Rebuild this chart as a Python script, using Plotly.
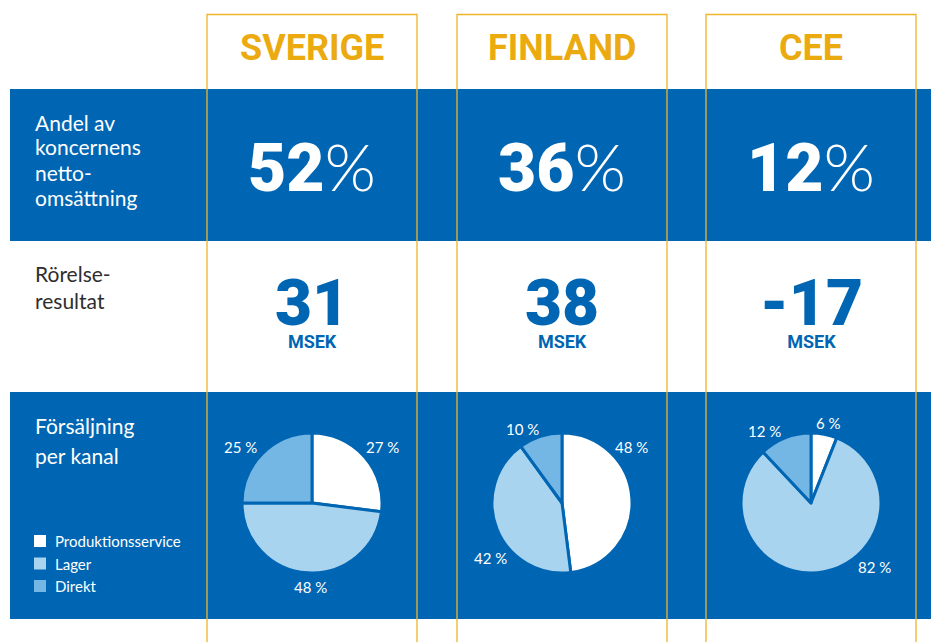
import plotly.graph_objects as go

# ---------------- data ----------------
regions = ["SVERIGE", "FINLAND", "CEE"]
share_of_sales_pct = [52, 36, 12]
operating_result_msek = [31, 38, -17]
channel_labels = ["Produktionsservice", "Lager", "Direkt"]
sales_sverige = [27, 48, 25]
sales_finland = [48, 42, 10]
sales_cee = [6, 82, 12]
row_label_share = ["Andel av", "koncernens", "netto-", "omsättning"]
row_label_result = ["Rörelse-", "resultat"]
row_label_sales = ["Försäljning", "per kanal"]
unit_label = "MSEK"

# ---------------- styling ----------------
W, H = 931, 642
BLUE = "#0066B3"
LIGHT = "#A9D4F0"
MID = "#74B7E5"
WHITE = "#FFFFFF"
YELLOW = "#EBAB10"
LINE_YELLOW = "#F0B429"
DARK = "#2E2E2E"
channel_colors = [WHITE, LIGHT, MID]

col_left = [207, 457, 706]
col_w = 210
col_cx = [l + col_w / 2 for l in col_left]
pie_cy = 503
pie_r = 70


def px(x):
    return x / W


def py(y):
    return 1 - y / H


fig = go.Figure()

for i, vals in enumerate([sales_sverige, sales_finland, sales_cee]):
    cx = col_cx[i]
    fig.add_trace(go.Pie(
        labels=channel_labels,
        values=vals,
        sort=False,
        direction="clockwise",
        rotation=0,
        textinfo="none",
        marker=dict(colors=channel_colors, line=dict(color=BLUE, width=3)),
        domain=dict(x=[px(cx - pie_r), px(cx + pie_r)],
                    y=[py(pie_cy + pie_r), py(pie_cy - pie_r)]),
        showlegend=False,
        hovertemplate="%{label}: %{value} %<extra>" + regions[i] + "</extra>",
    ))

shapes = []
# blue bands
for (y0, y1) in [(89, 241), (392, 619)]:
    shapes.append(dict(type="rect", xref="paper", yref="paper",
                       x0=px(10), x1=1, y0=py(y1), y1=py(y0),
                       fillcolor=BLUE, line=dict(width=0), layer="below"))
# column frames
for l in col_left:
    shapes.append(dict(type="rect", xref="paper", yref="paper",
                       x0=px(l), x1=px(l + col_w), y0=py(660), y1=py(14.5),
                       fillcolor="rgba(0,0,0,0)",
                       line=dict(color=LINE_YELLOW, width=1.3), layer="below"))
# legend squares
leg_y = [541, 563.5, 586]
for c, y in zip(channel_colors, leg_y):
    shapes.append(dict(type="rect", xref="paper", yref="paper",
                       x0=px(34), x1=px(46), y0=py(y + 6), y1=py(y - 6),
                       fillcolor=c, line=dict(width=0), layer="below"))

ann = []


def text(x, y, s, size, color, family="Lato", weight=400, xanchor="center"):
    ann.append(dict(x=px(x), y=py(y), xref="paper", yref="paper", text=s,
                    showarrow=False, xanchor=xanchor, yanchor="middle",
                    font=dict(family=family, size=size, color=color, weight=weight)))


# left row labels
for k, s in enumerate(row_label_share):
    text(33, 122 + 25 * k, s, 21, WHITE, xanchor="left")
for k, s in enumerate(row_label_result):
    text(33, 273 + 27 * k, s, 21, DARK, xanchor="left")
for k, s in enumerate(row_label_sales):
    text(33, 425 + 30 * k, s, 21, WHITE, xanchor="left")
# legend labels
for lab, y in zip(channel_labels, leg_y):
    text(53, y, lab, 15, WHITE, xanchor="left")

pct_span = "<span style='font-family:Lato;font-weight:300'>%</span>"
for i, cx in enumerate(col_cx):
    text(cx, 47.5, regions[i], 36, YELLOW, family="Roboto", weight=700)
    text(cx, 167, f"{share_of_sales_pct[i]}" + pct_span, 66, WHITE,
         family="Roboto", weight=900)
    result_txt = (f"<span style='font-size:64px;font-weight:900'>"
                  f"{operating_result_msek[i]}</span><br>{unit_label}")
    text(cx, 309, result_txt, 18, BLUE, family="Roboto", weight=700)

# pie percentage labels (offset from pie centre)
label_offsets = [
    [(70, -56), (-2, 84), (-72, -56)],
    [(69, -56), (-72, 55), (-40, -74)],
    [(17, -80), (63, 64), (-47, -72)],
]
for i, vals in enumerate([sales_sverige, sales_finland, sales_cee]):
    for v, (dx, dy) in zip(vals, label_offsets[i]):
        text(col_cx[i] + dx, pie_cy + dy, f"{v} %", 15, WHITE)

fig.update_layout(
    width=W, height=H,
    margin=dict(l=0, r=0, t=0, b=0),
    paper_bgcolor=WHITE, plot_bgcolor=WHITE,
    shapes=shapes, annotations=ann,
    showlegend=False,
)

fig.write_html("out.html",
               config={"displayModeBar": False},
               post_script="document.body.style.margin='0';"
                           "document.body.style.overflow='hidden';")
